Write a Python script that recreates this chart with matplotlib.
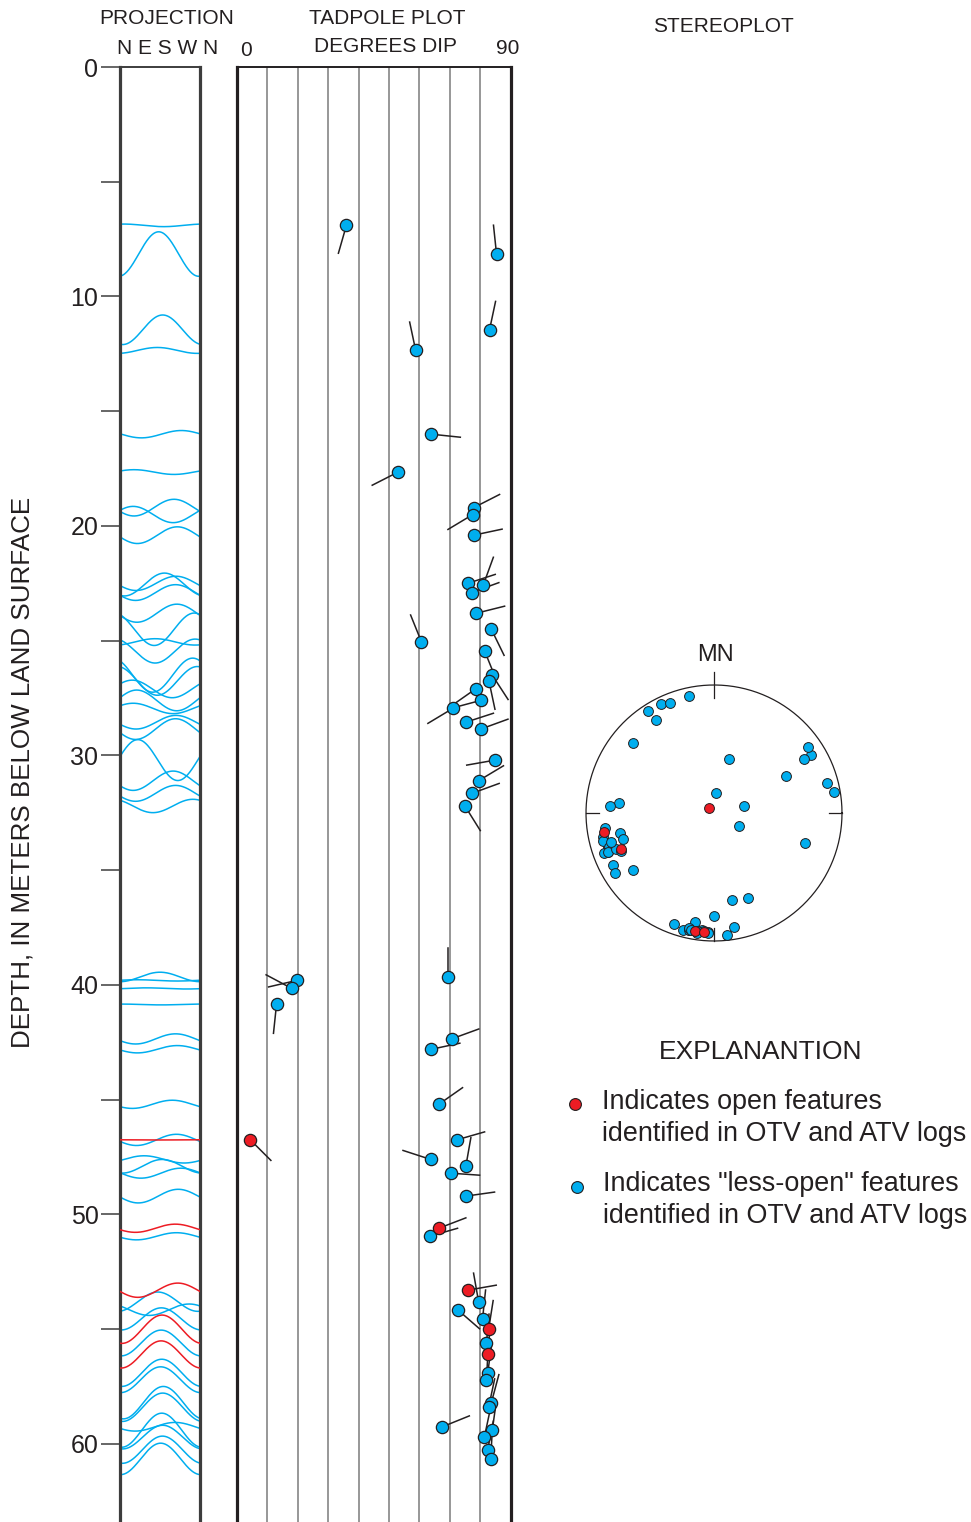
import numpy as np
import matplotlib

matplotlib.use("Agg")
import matplotlib.pyplot as plt

plt.rcParams["font.family"] = ["Liberation Sans", "DejaVu Sans"]

# features picked from the borehole logs: depth (m), dip (deg), dip azimuth (deg), open?
depth = [6.9, 8.15, 11.45, 12.35, 16.0, 17.65, 19.2, 19.5, 20.4, 22.5,
         22.9, 22.55, 23.8, 25.05, 24.5, 25.45, 26.5, 26.75, 27.1, 27.95,
         27.6, 28.55, 28.85, 30.2, 31.1, 31.65, 32.2, 39.8, 40.15, 40.85,
         39.65, 42.35, 42.8, 45.2, 46.75, 46.75, 47.6, 47.9, 48.2, 49.2,
         50.6, 50.95, 53.3, 53.8, 54.15, 54.55, 55.0, 55.6, 56.1, 56.9,
         57.2, 58.2, 58.4, 59.25, 59.4, 59.7, 60.25, 60.65]
dip = [36, 85.4, 83.1, 58.8, 64, 53, 77.9, 77.6, 77.9, 75.9,
       77.2, 81.1, 78.8, 60.7, 83.7, 81.5, 84, 82.9, 78.5, 71,
       80.2, 75.3, 80.2, 85, 79.5, 77.3, 75, 19.7, 18, 13,
       69.3, 70.6, 64, 66.4, 4.4, 72.3, 63.7, 75.3, 70.3, 75.3,
       66.4, 63.4, 75.9, 79.5, 72.6, 80.8, 82.8, 82.1, 82.5, 82.5,
       82.1, 83.7, 82.8, 67.6, 84, 81.4, 82.5, 83.5]
azimuth = [196, 354, 12, 348, 96, 243, 63, 239, 78, 72,
           70, 20, 76, 338, 154, 158, 147, 168, 235, 239,
           255, 72, 70, 260, 59, 70, 148, 257, 298, 186,
           0, 70, 78, 55, 135, 74, 288, 10, 94, 82,
           69, 74, 80, 350, 131, 6, 9, 5, 5, 8,
           3, 15, 12, 68, 8, 12, 11, 3]
is_open = [0] * 34 + [1] + [0] * 5 + [1, 0, 1, 0, 0, 0, 1, 0, 1] + [0] * 9

depth_ticks = list(range(0, 61, 5))
bore_radius = 0.078  # m
depth_max = 63.4

BLUE = "#00aeef"
RED = "#ed1c24"
INK = "#231f20"

W, H = 971, 1522


def box(x0, y0, x1, y1):
    return [x0 / W, 1 - y1 / H, (x1 - x0) / W, (y1 - y0) / H]


fig = plt.figure(figsize=(W / 100, H / 100), dpi=100)

depth = np.array(depth)
dip = np.array(dip)
azimuth = np.array(azimuth)
is_open = np.array(is_open, dtype=bool)
groups = [(~is_open, BLUE, 3), (is_open, RED, 4)]

# ---- projection (unrolled borehole wall) ----
ax_p = fig.add_axes(box(120, 67, 200, 1522))
theta = np.linspace(0, 360, 181)
for d, dp, az, op in zip(depth, dip, azimuth, is_open):
    amp = bore_radius * np.tan(np.radians(dp))
    ax_p.plot(theta, d + amp * np.cos(np.radians(theta - az)),
              color=RED if op else BLUE, lw=1.1, zorder=3 if op else 2)
ax_p.set_xlim(0, 360)
ax_p.set_ylim(depth_max, 0)
ax_p.set_xticks([])
ax_p.set_yticks(depth_ticks)
ax_p.set_yticklabels([str(t) if t % 10 == 0 else "" for t in depth_ticks])
ax_p.tick_params(axis="y", length=14, width=1.1, color="#3d3d3d", pad=1.5,
                 labelsize=18, labelcolor=INK)
for side in ["left", "right"]:
    ax_p.spines[side].set_linewidth(2.3)
    ax_p.spines[side].set_color("#3d3d3d")
ax_p.spines["top"].set_linewidth(1.4)
ax_p.spines["top"].set_color("#3d3d3d")
ax_p.spines["bottom"].set_visible(False)

# ---- tadpole plot ----
ax_t = fig.add_axes(box(237, 67, 510.5, 1522))
ax_t.set_xlim(0, 90)
ax_t.set_ylim(depth_max, 0)
for g in range(10, 90, 10):
    ax_t.axvline(g, color="#858585", lw=1.2, zorder=1)
bb = ax_t.get_position()
sx = bb.width * W / 90
sy = bb.height * H / depth_max
tail = 29
for d, dp, az in zip(depth, dip, azimuth):
    a = np.radians(az)
    ax_t.plot([dp, dp + tail * np.sin(a) / sx], [d, d - tail * np.cos(a) / sy],
              color=INK, lw=1.1, zorder=2)
for m, c, z in groups:
    ax_t.scatter(dip[m], depth[m], s=78, c=c, edgecolors=INK, linewidths=0.9,
                 zorder=z, clip_on=False)
ax_t.set_xticks([])
ax_t.set_yticks([])
for side in ["left", "right"]:
    ax_t.spines[side].set_linewidth(2.3)
    ax_t.spines[side].set_color(INK)
ax_t.spines["top"].set_linewidth(1.4)
ax_t.spines["top"].set_color(INK)
ax_t.spines["bottom"].set_visible(False)

# ---- stereoplot (equal-area, lower hemisphere poles) ----
R = 128
ax_s = fig.add_axes(box(714 - 150, 813 - 150, 714 + 150, 813 + 150))
ax_s.set_xlim(-150 / R, 150 / R)
ax_s.set_ylim(-150 / R, 150 / R)
ax_s.axis("off")
circ = np.linspace(0, 2 * np.pi, 400)
ax_s.plot(np.cos(circ), np.sin(circ), color=INK, lw=0.9)
ax_s.plot([0, 0], [0.9, 1.1], color=INK, lw=0.9)
ax_s.plot([0.9, 1.0], [0, 0], color=INK, lw=0.9)
ax_s.plot([-1.0, -0.9], [0, 0], color=INK, lw=0.9)
ax_s.plot([0, 0], [-1.0, -0.9], color=INK, lw=0.9)
pole_trend = np.radians(azimuth + 180)
r = np.sqrt(2) * np.sin(np.radians(dip) / 2)
px, py = r * np.sin(pole_trend), r * np.cos(pole_trend)
for m, c, z in groups:
    ax_s.scatter(px[m], py[m], s=50, c=c, edgecolors=INK, linewidths=0.7, zorder=z)
ax_s.text(0.015, 1.235, "MN", ha="center", va="center", fontsize=17, color=INK)

# ---- headers, labels, explanation ----
ax_o = fig.add_axes([0, 0, 1, 1])
ax_o.set_xlim(0, W)
ax_o.set_ylim(H, 0)
ax_o.axis("off")
txt = dict(color=INK, ha="center", va="center")
ax_o.text(167, 19, "PROJECTION", fontsize=15, **txt)
ax_o.text(168, 48, "N E S W N", fontsize=15, **txt)
ax_o.text(387, 19, "TADPOLE PLOT", fontsize=15, **txt)
ax_o.text(386, 46, "DEGREES DIP", fontsize=15, **txt)
ax_o.text(246, 50, "0", fontsize=15, **txt)
ax_o.text(508, 48, "90", fontsize=15, **txt)
ax_o.text(723, 26, "STEREOPLOT", fontsize=15, **txt)
ax_o.text(23, 772, "DEPTH, IN METERS BELOW LAND SURFACE", fontsize=18.7,
          rotation=90, **txt)
ax_o.text(761, 1052, "EXPLANANTION", fontsize=19, **txt)

ax_o.plot(575, 1104, "o", ms=8.5, mfc=RED, mec=INK, mew=0.8)
ax_o.plot(577, 1187, "o", ms=8.5, mfc=BLUE, mec=INK, mew=0.8)
ax_o.text(602, 1118, "Indicates open features\nidentified in OTV and ATV logs",
          fontsize=19.4, color=INK, ha="left", va="center", linespacing=1.3)
ax_o.text(603, 1200, "Indicates \"less-open\" features\nidentified in OTV and ATV logs",
          fontsize=19.4, color=INK, ha="left", va="center", linespacing=1.3)

fig.savefig("out.png", dpi=100)
